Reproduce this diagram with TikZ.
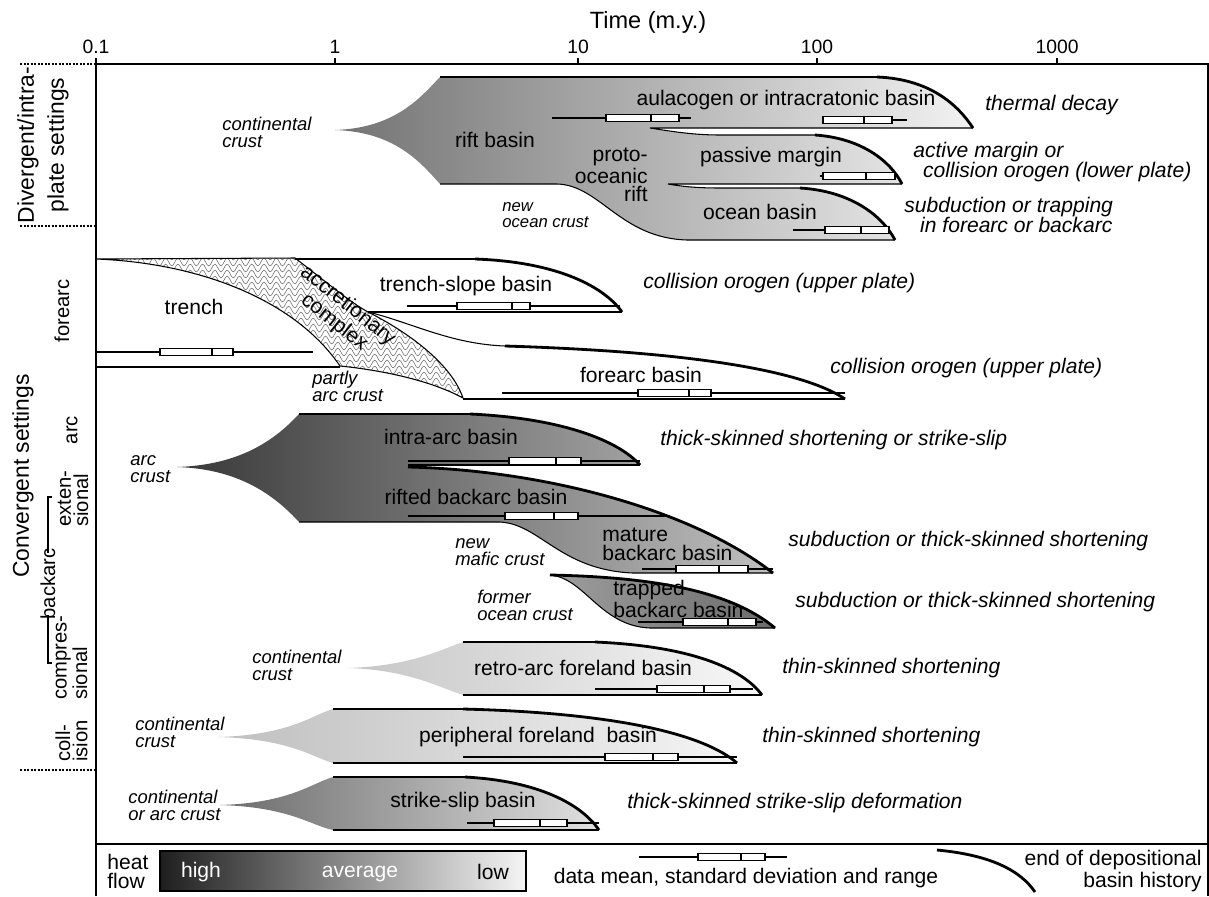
\documentclass[tikz,border=0pt]{standalone}
\usepackage{fontspec}
\setmainfont{Liberation Sans}
\usetikzlibrary{decorations.pathmorphing}

\tikzset{
  outline/.style={line width=0.6pt},
  basinend/.style={line width=1.6pt},
  sepline/.style={line width=0.6pt, dash pattern=on 1.2pt off 0.8pt},
  basinlabel/.style={font=\fontsize{12}{10.8}\selectfont, inner sep=0pt},
  fate/.style={font=\fontsize{12}{11.2}\selectfont\itshape, inner sep=0pt, anchor=west, align=left},
  crust/.style={font=\fontsize{10.5}{9.6}\selectfont\itshape, inner sep=0pt, anchor=west, align=left},
  setting/.style={font=\fontsize{11.5}{9.8}\selectfont, rotate=90, inner sep=0pt, align=left},
  hatch/.style={black!60, line width=0.3pt, decorate,
    decoration={snake, amplitude=2.2pt, segment length=7pt}},
}

% y, min, box left, mean, box right, max
\newcommand{\rangebar}[6]{%
  \draw[outline] (#2,#1) -- (#6,#1);
  \draw[outline, fill=white] (#3,#1-3.5) rectangle (#5,#1+3.5);
  \draw[outline] (#4,#1-3.5) -- (#4,#1+3.5);
}

\newcommand{\accpath}{(96,259) -- (295,258) .. controls (330,285) and (350,302) .. (368,312)
  .. controls (400,328) and (450,360) .. (463,398)
  .. controls (430,380) and (380,370) .. (340,366)
  .. controls (295,300) and (200,263) .. (96,259) -- cycle}

\begin{document}
\begin{tikzpicture}[x=0.02cm, y=-0.02cm]
  \useasboundingbox (0,0) rectangle (1209,896);

  % frame and time axis
  \draw[outline] (96,896) -- (96,64) -- (1208,64) -- (1208,896);
  \draw[outline] (96,844) -- (1208,844);
  \foreach \xx/\lab in {96/0.1, 335/1, 578/10, 817/100, 1057/1000} {
    \draw[outline] (\xx,64) -- (\xx,58);
    \node[basinlabel, font=\fontsize{11}{12}\selectfont] (tick\xx) at (\xx,47) {\lab};
  }
  \node[basinlabel, font=\fontsize{13.4}{14}\selectfont] (time) at (648,22) {Time (m.y.)};

  % settings at the left
  \draw[sepline] (20,64) -- (96,64);
  \draw[sepline] (20,226) -- (96,226);
  \draw[sepline] (20,770) -- (96,770);
  \node[setting, align=center, font=\fontsize{13}{17}\selectfont] (divergent) at (43,145) {Divergent/intra-\\plate settings};
  \node[setting, font=\fontsize{13}{14}\selectfont] (convergent) at (23,476) {Convergent settings};
  \node[setting] (forearc) at (62,311) {forearc};
  \node[setting] (arc) at (72,430) {arc};
  \node[setting, anchor=west] (extensional) at (73,527) {exten-\\sional};
  \node[setting, anchor=west] (compressional) at (71.5,700) {compres-\\sional};
  \node[setting, anchor=west] (collision) at (71.5,762) {coll-\\ision};
  \node[setting] (backarc) at (48,584) {backarc};
  \draw[outline] (52,497) -- (48,497) -- (48,553);
  \draw[outline] (48,615) -- (48,663) -- (52,663);

  % divergent / intraplate basins
  \shade[left color=black!55, right color=black!5]
    (335,130) .. controls (395,128) and (420,98) .. (440,77) -- (877,77)
    .. controls (930,79) and (958,105) .. (973,128) -- (650,128)
    .. controls (675,132) and (695,135) .. (720,135) -- (815,135)
    .. controls (860,138) and (890,160) .. (902,184) -- (668,184)
    .. controls (685,187) and (700,188) .. (720,188) -- (800,188)
    .. controls (850,191) and (882,215) .. (895,240) -- (687,240)
    .. controls (620,238) and (600,185) .. (557,184) -- (440,184)
    .. controls (420,162) and (395,132) .. (335,130) -- cycle;
  \draw[outline] (440,77) -- (877,77);
  \draw[outline] (973,128) -- (650,128) .. controls (675,132) and (695,135) .. (720,135) -- (815,135);
  \draw[outline] (902,184) -- (668,184) .. controls (685,187) and (700,188) .. (720,188) -- (800,188);
  \draw[outline] (895,240) -- (687,240) .. controls (620,238) and (600,185) .. (557,184) -- (440,184);
  \draw[basinend] (877,77) .. controls (930,79) and (958,105) .. (973,128);
  \draw[basinend] (815,135) .. controls (860,138) and (890,160) .. (902,184);
  \draw[basinend] (800,188) .. controls (850,191) and (882,215) .. (895,240);

  % forearc
  \begin{scope}
    \clip \accpath;
    \foreach \yy in {250,256,...,404}
      \draw[hatch] (88,\yy) -- (478,\yy);
  \end{scope}
  \draw[outline] \accpath;
  \draw[outline] (295,259) -- (475,259);
  \draw[basinend] (475,259) .. controls (560,262) and (605,288) .. (622,312);
  \draw[outline] (622,312) -- (368,312);
  \draw[outline] (368,312) .. controls (410,322) and (450,344) .. (505,346);
  \draw[basinend] (505,346) .. controls (700,352) and (805,372) .. (845,399);
  \draw[outline] (845,399) -- (463,399);
  \draw[outline] (96,367) -- (340,367);

  % arc and backarc
  \shade[left color=black!78, right color=black!25]
    (177,467) .. controls (240,465) and (275,440) .. (299,414) -- (470,414)
    .. controls (560,418) and (618,440) .. (640,465) -- (408,465) -- (408,467)
    .. controls (540,470) and (690,508) .. (773,573) -- (633,573)
    .. controls (560,570) and (540,524) .. (500,522) -- (299,522)
    .. controls (275,496) and (240,469) .. (177,467) -- cycle;
  \draw[outline] (299,414) -- (470,414);
  \draw[basinend] (470,414) .. controls (560,418) and (618,440) .. (640,465);
  \draw[outline] (640,465) -- (408,465);
  \draw[basinend] (408,467) .. controls (540,470) and (690,508) .. (773,573);
  \draw[outline] (773,573) -- (633,573) .. controls (560,570) and (540,524) .. (500,522) -- (299,522);

  \shade[left color=black!38, right color=black!58]
    (550,575) .. controls (650,577) and (730,590) .. (775,628) -- (650,628)
    .. controls (600,626) and (585,578) .. (550,575) -- cycle;
  \draw[basinend] (550,575) .. controls (650,577) and (730,590) .. (775,628);
  \draw[outline] (775,628) -- (650,628) .. controls (600,626) and (585,578) .. (550,575);

  % foreland and strike-slip basins
  \shade[left color=black!22, right color=black!3]
    (348,668) .. controls (410,666) and (440,650) .. (463,642) -- (595,642)
    .. controls (690,646) and (742,668) .. (762,695) -- (463,695)
    .. controls (440,688) and (410,670) .. (348,668) -- cycle;
  \draw[outline] (463,642) -- (595,642);
  \draw[basinend] (595,642) .. controls (690,646) and (742,668) .. (762,695);
  \draw[outline] (762,695) -- (463,695);

  \shade[left color=black!25, right color=black!4]
    (218,737) .. controls (290,735) and (312,715) .. (333,709) -- (463,709)
    .. controls (620,713) and (705,735) .. (737,763) -- (333,763)
    .. controls (312,757) and (290,739) .. (218,737) -- cycle;
  \draw[outline] (333,709) -- (463,709);
  \draw[basinend] (463,709) .. controls (620,713) and (705,735) .. (737,763);
  \draw[outline] (737,763) -- (333,763);

  \shade[left color=black!58, right color=black!12]
    (220,805) .. controls (290,803) and (312,783) .. (333,777) -- (465,777)
    .. controls (540,781) and (582,805) .. (599,830) -- (333,830)
    .. controls (312,826) and (290,807) .. (220,805) -- cycle;
  \draw[outline] (333,777) -- (465,777);
  \draw[basinend] (465,777) .. controls (540,781) and (582,805) .. (599,830);
  \draw[outline] (599,830) -- (333,830);

  % data ranges
  \rangebar{118}{552}{606}{651}{679}{691}
  \rangebar{120}{823}{823}{864}{892}{907}
  \rangebar{176}{820}{823}{866}{895}{895}
  \rangebar{230}{793}{825}{861}{889}{889}
  \rangebar{352}{96}{160}{212}{233}{313}
  \rangebar{306}{407}{457}{512}{530}{620}
  \rangebar{393}{502}{638}{689}{711}{845}
  \rangebar{461}{408}{509}{556}{581}{640}
  \rangebar{516}{408}{505}{554}{578}{670}
  \rangebar{569}{642}{676}{719}{748}{773}
  \rangebar{622}{638}{683}{728}{756}{763}
  \rangebar{689}{595}{657}{704}{730}{753}
  \rangebar{757}{463}{605}{653}{678}{737}
  \rangebar{823}{467}{494}{540}{567}{599}

  % basin names
  \begin{scope}[every node/.style={basinlabel}]
    \node (rift) at (495,140) {rift basin};
    \node (aulacogen) at (786,100) {aulacogen or intracratonic basin};
    \node[anchor=east, align=right, font=\fontsize{12}{10.4}\selectfont] (protorift) at (648,175) {proto-\\oceanic\\rift};
    \node (passive) at (771,157) {passive margin};
    \node (ocean) at (760,212) {ocean basin};
    \node (trench) at (194,307) {trench};
    \node[rotate=-38.5, align=center, font=\fontsize{12}{12.2}\selectfont] (accretion) at (341,314) {accretionary\\complex};
    \node (trenchslope) at (466,286) {trench-slope basin};
    \node (forearcbasin) at (641,375) {forearc basin};
    \node (intraarc) at (451,437) {intra-arc basin};
    \node (rifted) at (476,497) {rifted backarc basin};
    \node[anchor=west, align=left] (mature) at (602,544) {mature\\backarc basin};
    \node[anchor=west, align=left] (trapped) at (613,599) {trapped\\backarc basin};
    \node (retroarc) at (583,668) {retro-arc foreland basin};
    \node (peripheral) at (538,737) {peripheral foreland\ \ basin};
    \node (strikeslip) at (463,802) {strike-slip basin};
  \end{scope}

  % crust types
  \begin{scope}[every node/.style={crust}]
    \node (crustA) at (222,132) {continental\\crust};
    \node[font=\fontsize{9.5}{8.8}\selectfont\itshape] (crustB) at (502,215) {new\\ocean crust};
    \node (crustC) at (312,386) {partly\\arc crust};
    \node (crustD) at (130,469) {arc\\crust};
    \node (crustE) at (455,552) {new\\mafic crust};
    \node (crustF) at (477,605) {former\\ocean crust};
    \node (crustG) at (252,665) {continental\\crust};
    \node (crustH) at (135,732) {continental\\crust};
    \node (crustI) at (128,805) {continental\\or arc crust};
  \end{scope}

  % what ends each basin
  \begin{scope}[every node/.style={fate}]
    \node (fateA) at (985,105) {thermal decay};
    \node (fateB) at (913,162) {active margin or\\\hspace*{5.5pt}collision orogen (lower plate)};
    \node (fateC) at (904,215) {subduction or trapping\\\hspace*{9pt}in forearc or backarc};
    \node (fateD) at (643,283) {collision orogen (upper plate)};
    \node (fateE) at (830,368) {collision orogen (upper plate)};
    \node (fateF) at (660,440) {thick-skinned shortening or strike-slip};
    \node (fateG) at (788,541) {subduction or thick-skinned shortening};
    \node (fateH) at (795,602) {subduction or thick-skinned shortening};
    \node (fateI) at (782,668) {thin-skinned shortening};
    \node (fateJ) at (762,737) {thin-skinned shortening};
    \node (fateK) at (627,803) {thick-skinned strike-slip deformation};
  \end{scope}

  % legend
  \shadedraw[left color=black!88, right color=black!4, line width=0.6pt] (160,851) rectangle (526,891);
  \node[basinlabel, anchor=west, align=left] (heatflow) at (107,871) {heat\\flow};
  \node[basinlabel, text=white] (high) at (201,872) {high};
  \node[basinlabel, text=white, anchor=base] (average) at (360,877) {average};
  \node[basinlabel] (low) at (493,872) {low};
  \rangebar{857}{639}{698}{741}{765}{787}
  \node[basinlabel] (datakey) at (746,878) {data mean, standard deviation and range};
  \draw[basinend] (937,850) .. controls (990,855) and (1020,870) .. (1035,892);
  \node[basinlabel, anchor=east, align=right] (endkey) at (1202,871) {end of depositional\\basin history};
\end{tikzpicture}
\end{document}
